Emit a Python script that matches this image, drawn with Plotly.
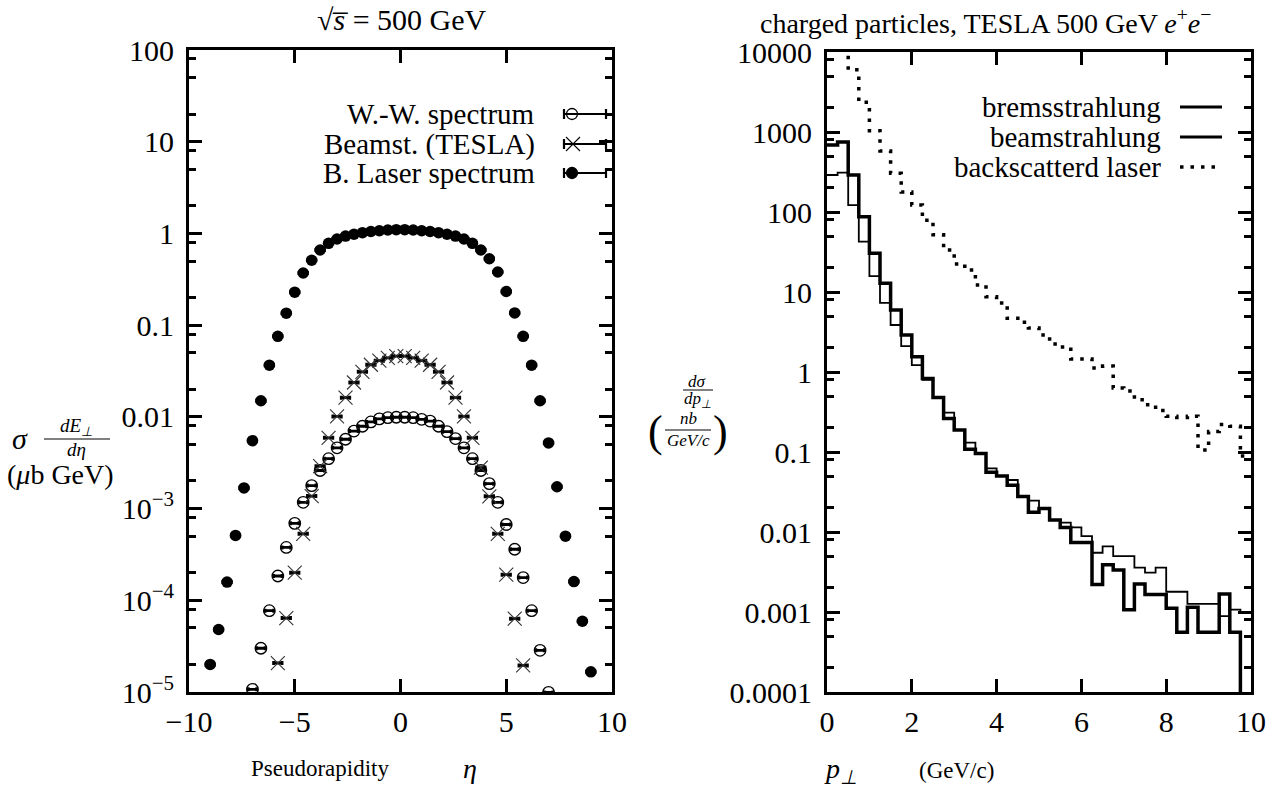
import plotly.graph_objects as go

# ---------------- data: left panel (pseudorapidity) ----------------
eta = [round(-9.0 + 0.4 * i, 1) for i in range(46)]

ww_spectrum = [None, None, None, None, None,
               1.07e-5, 3.0e-5, 7.7e-5, 1.84e-4, 3.77e-4, 6.9e-4, 1.17e-3, 1.78e-3, 2.6e-3,
               3.5e-3, 4.6e-3, 5.7e-3, 7.0e-3, 7.9e-3, 8.8e-3, 9.5e-3, 9.8e-3, 9.9e-3,
               9.9e-3, 9.8e-3, 9.4e-3, 9.0e-3, 7.9e-3, 6.9e-3, 5.8e-3, 4.6e-3, 3.5e-3,
               2.6e-3, 1.87e-3, 1.17e-3, 6.7e-4, 3.6e-4, 1.77e-4, 7.7e-5, 2.85e-5, 9.9e-6,
               None, None, None, None, None]

beamst_tesla = [None] * 8 + [
    2.07e-5, 6.4e-5, 2.0e-4, 5.3e-4, 1.37e-3, 2.9e-3, 5.9e-3, 0.0101, 0.0162, 0.0237,
    0.031, 0.037, 0.041, 0.044, 0.046,
    0.046, 0.044, 0.041, 0.037, 0.031, 0.0237, 0.0162, 0.0101, 5.9e-3, 2.8e-3,
    1.36e-3, 5.3e-4, 1.9e-4, 6.3e-5, 1.95e-5] + [None] * 8

laser_spectrum = [2.0e-5, 4.8e-5, 1.58e-4, 5.1e-4, 1.68e-3, 5.5e-3, 0.0150, 0.0366, 0.0755,
                  0.135, 0.229, 0.37, 0.51, 0.66, 0.78, 0.87, 0.935, 0.98, 1.02, 1.05,
                  1.07, 1.09, 1.10,
                  1.10, 1.09, 1.07, 1.05, 1.02, 0.98, 0.935, 0.87, 0.78, 0.66, 0.53,
                  0.38, 0.233, 0.136, 0.0755, 0.0366, 0.0150, 5.2e-3, 1.73e-3, 5.0e-4,
                  1.6e-4, 5.9e-5, 1.66e-5]
eta_halfbin = 0.2

# ---------------- data: right panel (p_T histograms, 0.25 GeV bins) ----------------
pt_edges = [i * 0.25 for i in range(41)]

bremsstrahlung = [290, 310, 122, 42.6, 15.8, 7.3, 3.87, 2.1, 1.22, 0.80,
                  0.48, 0.31, 0.188, 0.131, 0.096, 0.0625, 0.050, 0.0447, 0.0278, 0.0247,
                  0.0196, 0.0141, 0.0131, 0.0114, 0.0089, 0.0055, 0.0066, 0.0050, 0.0050, 0.00358,
                  0.0031, 0.00358, 0.00179, 0.00179, 0.00126, 0.00126, 0.00126, 0.00089, 0.00107, 0.0010]

beamstrahlung = [690, 750, 290, 87, 30.5, 12.9, 5.96, 2.9, 1.55, 0.83,
                 0.48, 0.263, 0.188, 0.108, 0.096, 0.056, 0.050, 0.0385, 0.0278, 0.0176,
                 0.0196, 0.0141, 0.0114, 0.0074, 0.0074, 0.0022, 0.0039, 0.00335, 0.00107, 0.00224,
                 0.00166, 0.00166, 0.00111, 0.00056, 0.00115, 0.00056, 0.00056, 0.00168, 0.00056, 1e-7]

backscattered_laser = [30000, 20000, 6000, 2350, 1040, 580, 305, 178, 122, 79,
                       52, 33.5, 22.4, 18.8, 12.2, 8.7, 7.3, 4.7, 4.2, 3.55,
                       2.9, 2.24, 2.05, 1.45, 1.45, 1.12, 1.19, 0.63, 0.58, 0.45,
                       0.39, 0.33, 0.28, 0.27, 0.28, 0.106, 0.18, 0.22, 0.21, 0.089]

left_ytickvals = [1e2, 1e1, 1, 0.1, 0.01, 1e-3, 1e-4, 1e-5]
left_yticktext = ["100", "10", "1", "0.1", "0.01", "10<sup>−3</sup>", "10<sup>−4</sup>", "10<sup>−5</sup>"]
right_ytickvals = [1e4, 1e3, 1e2, 1e1, 1, 0.1, 0.01, 1e-3, 1e-4]
right_yticktext = ["10000", "1000", "100", "10", "1", "0.1", "0.01", "0.001", "0.0001"]
left_xtickvals = [-10, -5, 0, 5, 10]
left_xticktext = ["−10", "−5", "0", "5", "10"]
right_xtickvals = [0, 2, 4, 6, 8, 10]

# ---------------- figure ----------------
W, H = 1282, 797
FONT = "Liberation Serif"
def X(p): return p / W
def Y(p): return 1 - p / H

fig = go.Figure()

ex = dict(type="constant", value=eta_halfbin, color="black", thickness=2.8, width=2)

fig.add_trace(go.Scatter(x=eta, y=ww_spectrum, mode="markers", xaxis="x", yaxis="y",
                         marker=dict(symbol="circle-open", size=11.5, color="black", line=dict(width=1.3)),
                         error_x=ex, showlegend=False))
fig.add_trace(go.Scatter(x=eta, y=beamst_tesla, mode="markers", xaxis="x", yaxis="y",
                         marker=dict(symbol="x-thin-open", size=14, color="#333", line=dict(width=1.1)),
                         error_x=ex, showlegend=False))
fig.add_trace(go.Scatter(x=eta, y=laser_spectrum, mode="markers", xaxis="x", yaxis="y",
                         marker=dict(symbol="circle", size=11.5, color="black"),
                         error_x=ex, showlegend=False))

def steps(vals):
    return pt_edges, list(vals) + [vals[-1]]

xs, ys = steps(bremsstrahlung)
fig.add_trace(go.Scatter(x=xs, y=ys, mode="lines", line=dict(shape="hv", color="black", width=1.8),
                         xaxis="x2", yaxis="y2", showlegend=False))
xs, ys = steps(beamstrahlung)
fig.add_trace(go.Scatter(x=xs, y=ys, mode="lines", line=dict(shape="hv", color="black", width=3.5),
                         xaxis="x2", yaxis="y2", showlegend=False))
xs, ys = steps(backscattered_laser)
fig.add_trace(go.Scatter(x=xs, y=ys, mode="lines", line=dict(shape="hv", color="black", width=3.5, dash="3.5px,7px"),
                         xaxis="x2", yaxis="y2", showlegend=False))

axis_common = dict(showline=True, linecolor="black", linewidth=3, mirror="ticks",
                   ticks="inside", ticklen=13, tickwidth=2.5, tickcolor="black",
                   showgrid=False, zeroline=False, automargin=False,
                   tickfont=dict(family=FONT, size=30, color="black"))

minor_left = [m * 10 ** e for e in range(-5, 2) for m in (2, 5, 8)]
minor_right = [m * 10 ** e for e in range(-4, 4) for m in (2, 5, 8)]

fig.update_layout(
    width=W, height=H, margin=dict(l=0, r=0, t=0, b=0, autoexpand=False),
    paper_bgcolor="white", plot_bgcolor="white", showlegend=False,
    xaxis=dict(domain=[X(189), X(612)], range=[-10, 10], anchor="y",
               tickmode="array", tickvals=left_xtickvals, ticktext=left_xticktext,
               ticklabelstandoff=1, **axis_common),
    yaxis=dict(domain=[Y(692), Y(50)], type="log", range=[-5, 2], anchor="x",
               tickmode="array", tickvals=left_ytickvals, ticktext=left_yticktext,
               ticklabelstandoff=6,
               minor=dict(tickmode="array", tickvals=minor_left, ticks="inside", ticklen=7,
                          tickwidth=2.5, tickcolor="black"),
               **axis_common),
    xaxis2=dict(domain=[X(827), X(1251)], range=[0, 10], anchor="y2",
                tickmode="array", tickvals=right_xtickvals,
                ticklabelstandoff=1, **axis_common),
    yaxis2=dict(domain=[Y(692), Y(52)], type="log", range=[-4, 4], anchor="x2",
                tickmode="array", tickvals=right_ytickvals, ticktext=right_yticktext,
                ticklabelstandoff=6,
                minor=dict(tickmode="array", tickvals=minor_right, ticks="inside", ticklen=7,
                           tickwidth=2.5, tickcolor="black"),
                **axis_common),
)

ann = []
shapes = []
def text(x, y, s, size=27, xanchor="center", italic=False):
    if italic:
        s = "<i>" + s + "</i>"
    ann.append(dict(x=X(x), y=Y(y), xref="paper", yref="paper", text=s, showarrow=False,
                    xanchor=xanchor, yanchor="middle", font=dict(family=FONT, size=size, color="black")))
def pline(x0, y0, x1, y1, w=2.0):
    shapes.append(dict(type="line", xref="paper", yref="paper", x0=X(x0), y0=Y(y0), x1=X(x1), y1=Y(y1),
                       line=dict(color="black", width=w)))
def pcircle(cx, cy, r, fill=False, w=1.3):
    shapes.append(dict(type="circle", xref="paper", yref="paper", x0=X(cx - r), x1=X(cx + r),
                       y0=Y(cy + r), y1=Y(cy - r), line=dict(color="black", width=w),
                       fillcolor="black" if fill else "rgba(0,0,0,0)"))

# titles
text(402, 20, "√<i>s\u0305</i> = 500 GeV", size=30)
text(758, 21, "charged particles, TESLA 500 GeV <i>e</i><sup>+</sup><i>e</i><sup>−</sup>", size=28, xanchor="left")

# left legend
leg_rows = [114, 144, 173]
leg_labels = ["W.-W. spectrum", "Beamst. (TESLA)", "B. Laser spectrum"]
for yy, lab in zip(leg_rows, leg_labels):
    text(537, yy, lab, size=29, xanchor="right")
    pline(564, yy, 606, yy, 2.2)
    pline(564, yy - 5, 564, yy + 5, 2.2)
    pline(606, yy - 5, 606, yy + 5, 2.2)
pcircle(572, leg_rows[0], 5.5)
pline(566, leg_rows[1] - 7, 580, leg_rows[1] + 7, 1.1)
pline(566, leg_rows[1] + 7, 580, leg_rows[1] - 7, 1.1)
pcircle(572, leg_rows[2], 5.5, fill=True)

# right legend
rleg_rows = [107, 137, 167]
text(1163, rleg_rows[0], "bremsstrahlung", size=29, xanchor="right")
text(1163, rleg_rows[1], "beamstrahlung", size=29, xanchor="right")
text(1163, rleg_rows[2], "backscatterd laser", size=29, xanchor="right")
pline(1180, rleg_rows[0], 1222, rleg_rows[0], 2.8)
pline(1180, rleg_rows[1], 1222, rleg_rows[1], 2.8)
shapes.append(dict(type="line", xref="paper", yref="paper", x0=X(1180), x1=X(1222),
                   y0=Y(rleg_rows[2]), y1=Y(rleg_rows[2]),
                   line=dict(color="black", width=3.5, dash="3.5px,7px")))

# left y title
text(20, 438, "σ", size=30, italic=True)
text(76, 427, "dE<sub>⊥</sub>", size=19, italic=True)
text(76, 449, "dη", size=19, italic=True)
pline(44, 439, 110, 439, 1.0)
text(60, 474, "(<i>μ</i>b GeV)", size=28)

# right y title
text(697, 381, "dσ", size=17, italic=True)
text(697, 400, "dp<sub>⊥</sub>", size=17, italic=True)
pline(683, 390, 713, 390, 1.0)
text(655, 431, "(", size=44)
text(720, 431, ")", size=44)
text(688, 419, "nb", size=17, italic=True)
text(688, 441, "GeV/c", size=17, italic=True)
pline(665, 430, 711, 430, 1.0)

# x titles
text(320, 768, "Pseudorapidity", size=23)
text(470, 768, "η", size=28, italic=True)
text(840, 770, "p<sub>⊥</sub>", size=28, italic=True)
text(956, 770, "(GeV/c)", size=23)

fig.update_layout(annotations=ann, shapes=shapes)
fig.write_html("out.html")
